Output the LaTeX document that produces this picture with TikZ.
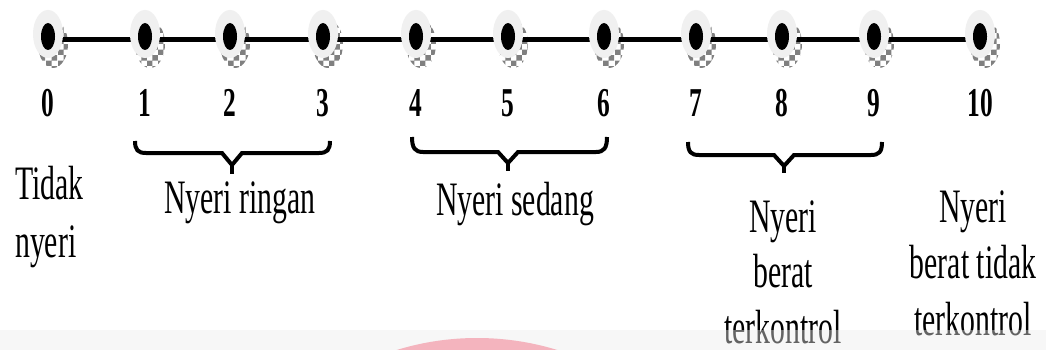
\documentclass[tikz,border=0pt]{standalone}
\usepackage{fontspec}
\setmainfont{Liberation Serif}
\usepackage{graphicx}
\usetikzlibrary{shapes.geometric,patterns}
\definecolor{pinkc}{RGB}{244,180,190}
\newcommand\sqz[1]{\scalebox{0.62}[1]{#1}}
\tikzset{
  lbl/.style={anchor=base, inner sep=0pt, font=\fontsize{48}{50}\selectfont},
  num/.style={anchor=base, inner sep=0pt, font=\fontsize{41}{43}\selectfont\bfseries},
  outerdot/.style={ellipse, fill=gray!12, minimum width=30pt, minimum height=48pt, inner sep=0pt},
  innerdot/.style={ellipse, fill=black, minimum width=14pt, minimum height=27pt, inner sep=0pt},
  shadowdot/.style={ellipse, pattern=checkerboard, pattern color=gray, minimum width=30pt, minimum height=48pt, inner sep=0pt},
  scaleline/.style={line width=5pt, black},
  bracest/.style={line width=4pt, black, line join=miter},
}
\begin{document}
\begin{tikzpicture}[x=1pt,y=-1pt]
\useasboundingbox (0,0) rectangle (1046,350);
\fill[white] (0,0) rectangle (1046,350);
% dots
\foreach \i/\x in {0/48,1/145,2/230,3/323,4/416,5/508,6/604,7/696,8/782,9/874,10/980}{
  \node[shadowdot] (s\i) at (\x+5,44) {};
}
\coordinate (la) at (48,39.5);
\coordinate (lb) at (980,39.5);
\draw[scaleline] (la) -- (lb);
\foreach \i/\x in {0/48,1/145,2/230,3/323,4/416,5/508,6/604,7/696,8/782,9/874,10/980}{
  \node[outerdot] (d\i) at (\x,34) {};
  \node[innerdot] (k\i) at (\x,36.5) {};
  \node[num] (n\i) at (\x,117) {\sqz{\i}};
}
% braces
\draw[bracest] (135,141) .. controls (135,150) and (138,153) .. (146,153) -- (222,153) -- (232,165) -- (242,153) -- (319,153) .. controls (327,153) and (330,150) .. (330,141);
\draw[bracest] (232,162) -- (232,174);
\draw[bracest] (412,137) .. controls (412,148) and (415,152) .. (423,152) -- (498,152) -- (508,163) -- (518,152) -- (596,152) .. controls (604,152) and (607,148) .. (607,137);
\draw[bracest] (508,160) -- (508,171);
\draw[bracest] (688,142) .. controls (688,152) and (691,155) .. (699,155) -- (774,155) -- (784,166) -- (794,155) -- (871,155) .. controls (879,155) and (882,152) .. (882,142);
\draw[bracest] (784,163) -- (784,173);
% labels
\node[lbl, anchor=base west] (t1) at (15,199) {\sqz{Tidak}};
\node[lbl, anchor=base west] (t2) at (15,257) {\sqz{nyeri}};
\node[lbl] (r) at (240,213) {\sqz{Nyeri ringan}};
\node[lbl] (sd) at (515,215) {\sqz{Nyeri sedang}};
\node[lbl] (b1) at (783,232) {\sqz{Nyeri}};
\node[lbl] (b2) at (783,287) {\sqz{berat}};
\node[lbl] (b3) at (783,343) {\sqz{terkontrol}};
\node[lbl] (c1) at (973,222) {\sqz{Nyeri}};
\node[lbl] (c2) at (973,278) {\sqz{berat tidak}};
\node[lbl] (c3) at (973,335) {\sqz{terkontrol}};
% bottom band
\fill[black!7, opacity=0.42] (0,330) rectangle (1046,350);
\begin{scope}
  \clip (0,0) rectangle (1046,350);
  \fill[pinkc] (477,611) circle (273pt);
\end{scope}
\end{tikzpicture}
\end{document}
